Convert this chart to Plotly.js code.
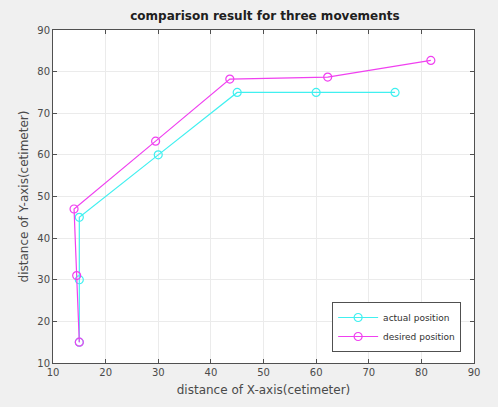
<!DOCTYPE html>
<html><head><meta charset="utf-8">
<script src="https://cdn.plot.ly/plotly-3.0.1.min.js"></script>
<style>html,body{margin:0;padding:0;background:#f0f0f0;}#chart{width:498px;height:407px;}</style>
</head><body><div id="chart"></div>
<script>
const actualX = [15, 15, 15, 30, 45, 60, 75];
const actualY = [15, 30, 45, 60, 75, 75, 75];
const desiredX = [15, 14.5, 14, 29.5, 43.6, 62.2, 81.8];
const desiredY = [15, 31, 47, 63.3, 78.2, 78.7, 82.7];
const xTicks = [10, 20, 30, 40, 50, 60, 70, 80, 90];
const yTicks = [10, 20, 30, 40, 50, 60, 70, 80, 90];

const FAM = 'DejaVu Sans, Verdana, sans-serif';
const font = {family: FAM, size: 10, color: '#4a4a4a'};
const traces = [
  {x: actualX, y: actualY, name: 'actual position', mode: 'lines+markers', type: 'scatter',
   line: {color: '#40f0f0', width: 1.2},
   marker: {symbol: 'circle-open', size: 8, color: '#40f0f0', line: {width: 1.2}}},
  {x: desiredX, y: desiredY, name: 'desired position', mode: 'lines+markers', type: 'scatter',
   line: {color: '#f040f0', width: 1.2},
   marker: {symbol: 'circle-open', size: 8, color: '#f040f0', line: {width: 1.2}}}
];
const axisCommon = {
  showline: true, mirror: 'ticks', linecolor: '#505050', linewidth: 1,
  ticks: 'inside', ticklen: 4, tickcolor: '#505050',
  showgrid: true, gridcolor: '#ebebeb', gridwidth: 1, zeroline: false,
  tickfont: font
};
const layout = {
  width: 498, height: 407,
  paper_bgcolor: '#f0f0f0', plot_bgcolor: '#ffffff',
  margin: {l: 53, r: 24, t: 30, b: 44},
  font: font,
  title: {text: '<b>comparison result for three movements</b>', x: 0.532, xanchor: 'center', y: 0.962, yanchor: 'middle',
          font: {family: FAM, size: 12, color: '#202020'}},
  xaxis: Object.assign({}, axisCommon, {range: [10, 90], tickvals: xTicks,
    title: {text: 'distance of X-axis(cetimeter)', standoff: 8, font: {family: FAM, size: 12, color: '#4a4a4a'}}}),
  yaxis: Object.assign({}, axisCommon, {range: [10, 90], tickvals: yTicks,
    title: {text: 'distance of Y-axis(cetimeter)', standoff: 6, font: {family: FAM, size: 12, color: '#4a4a4a'}}}),
  showlegend: true,
  legend: {x: 0.663, y: 0.033, xanchor: 'left', yanchor: 'bottom', bgcolor: '#ffffff',
           bordercolor: '#505050', borderwidth: 1, font: {family: FAM, size: 9, color: '#303030'},
           tracegroupgap: 0, itemwidth: 40}
};
Plotly.newPlot('chart', traces, layout, {displayModeBar: false, staticPlot: true});
</script></body></html>
